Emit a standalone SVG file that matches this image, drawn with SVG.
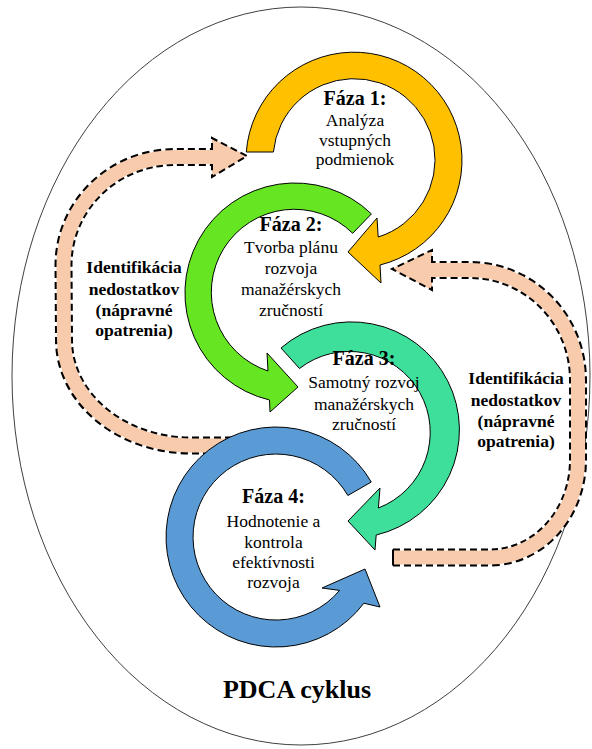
<svg xmlns="http://www.w3.org/2000/svg" width="592" height="749" viewBox="0 0 592 749">
<style>
.t{font-family:"Liberation Serif","Times New Roman",serif;fill:#000;text-anchor:middle}
.h{font-weight:bold;font-size:20px}
.b{font-size:17.5px}
.lb{font-weight:bold;font-size:17.5px}
.ttl{font-weight:bold;font-size:26px}
.arr{stroke:#000;stroke-width:1;stroke-linejoin:miter}
.bandO{fill:none;stroke:#000;stroke-width:18;stroke-dasharray:7 4}
.bandI{fill:none;stroke:#F8CBAD;stroke-width:14}
.head{fill:#F8CBAD;stroke:#000;stroke-width:2;stroke-dasharray:7 4}
</style>
<rect width="592" height="749" fill="#fff"/>
<ellipse id="frame" cx="301" cy="376" rx="289" ry="369" fill="#fff" stroke="#404040" stroke-width="1"/>
<g id="connectors">
  <g id="feedback-left">
    <path class="bandO" d="M 232 445.5 L 191 445.5 A 127 105.5 0 0 1 64 340 L 63.5 265 A 111.5 108 0 0 1 175 157 L 212 157"/>
    <path class="bandI" d="M 232 445.5 L 191 445.5 A 127 105.5 0 0 1 64 340 L 63.5 265 A 111.5 108 0 0 1 175 157 L 212 157"/>
    <path class="head" d="M 212 150 L 212 138 L 247 156 L 212 177 L 212 164"/>
  </g>
  <g id="feedback-right">
    <path class="bandO" d="M 393 557.5 L 490 557.5 A 88 97.5 0 0 0 578 460 L 578 380 A 108 110 0 0 0 470 270 L 432 270"/>
    <path class="bandI" d="M 393 557.5 L 490 557.5 A 88 97.5 0 0 0 578 460 L 578 380 A 108 110 0 0 0 470 270 L 432 270"/>
    <path class="head" d="M 432 263 L 432 250 L 392 269 L 432 290 L 432 277"/>
    <line x1="393" y1="549.5" x2="393" y2="565.5" stroke="#000" stroke-width="2"/>
  </g>
</g>
<g id="faza1">
  <path class="arr" fill="#FFC000" d="M 246.3 152 A 108 108 0 1 1 380 265 L 381 283 L 348 252 L 377 218 L 378.2 237 A 81 81 0 1 0 273.4 152 Z"/>
  <text class="t h" x="355" y="105">Fáza 1:</text>
  <text class="t b" x="355" y="126">Analýza</text>
  <text class="t b" x="355" y="146">vstupných</text>
  <text class="t b" x="355" y="165">podmienok</text>
</g>
<g id="faza2">
  <path class="arr" fill="#66E622" d="M 371.4 213.9 A 110 110 0 1 0 269.5 400 L 270 412 L 298 387 L 267 353 L 268 371 A 83 83 0 1 1 352.7 233.3 Z"/>
  <text class="t h" x="291" y="231">Fáza 2:</text>
  <text class="t b" x="291" y="253">Tvorba plánu</text>
  <text class="t b" x="291" y="274">rozvoja</text>
  <text class="t b" x="291" y="295">manažérskych</text>
  <text class="t b" x="291" y="316">zručností</text>
</g>
<g id="faza3">
  <path class="arr" fill="#3EDF9B" d="M 281 348 A 108 108 0 1 1 376.2 535 L 375 550 L 348 521 L 380 488 L 378.4 508 A 81 81 0 1 0 299.5 368.5 Z"/>
  <text class="t h" x="364" y="365">Fáza 3:</text>
  <text class="t b" x="364" y="388">Samotný rozvoj</text>
  <text class="t b" x="364" y="410">manažérskych</text>
  <text class="t b" x="364" y="430">zručností</text>
</g>
<g id="faza4">
  <path class="arr" fill="#5B9BD5" d="M 371.3 482 A 110 110 0 1 0 363.9 603.2 L 380 607 L 365 569 L 322 588 L 339.6 590.4 A 83 83 0 1 1 347.9 495.5 Z"/>
  <text class="t h" x="273.5" y="503">Fáza 4:</text>
  <text class="t b" x="273.5" y="527">Hodnotenie a</text>
  <text class="t b" x="273.5" y="548">kontrola</text>
  <text class="t b" x="273.5" y="568">efektívnosti</text>
  <text class="t b" x="273.5" y="588">rozvoja</text>
</g>
<g id="label-left">
  <text class="t lb" x="134" y="273">Identifikácia</text>
  <text class="t lb" x="134" y="295">nedostatkov</text>
  <text class="t lb" x="134" y="316">(nápravné</text>
  <text class="t lb" x="134" y="336">opatrenia)</text>
</g>
<g id="label-right">
  <text class="t lb" x="516" y="384">Identifikácia</text>
  <text class="t lb" x="516" y="406">nedostatkov</text>
  <text class="t lb" x="516" y="427">(nápravné</text>
  <text class="t lb" x="516" y="447">opatrenia)</text>
</g>
<g id="title">
  <text class="t ttl" x="297" y="698">PDCA cyklus</text>
</g>
</svg>
